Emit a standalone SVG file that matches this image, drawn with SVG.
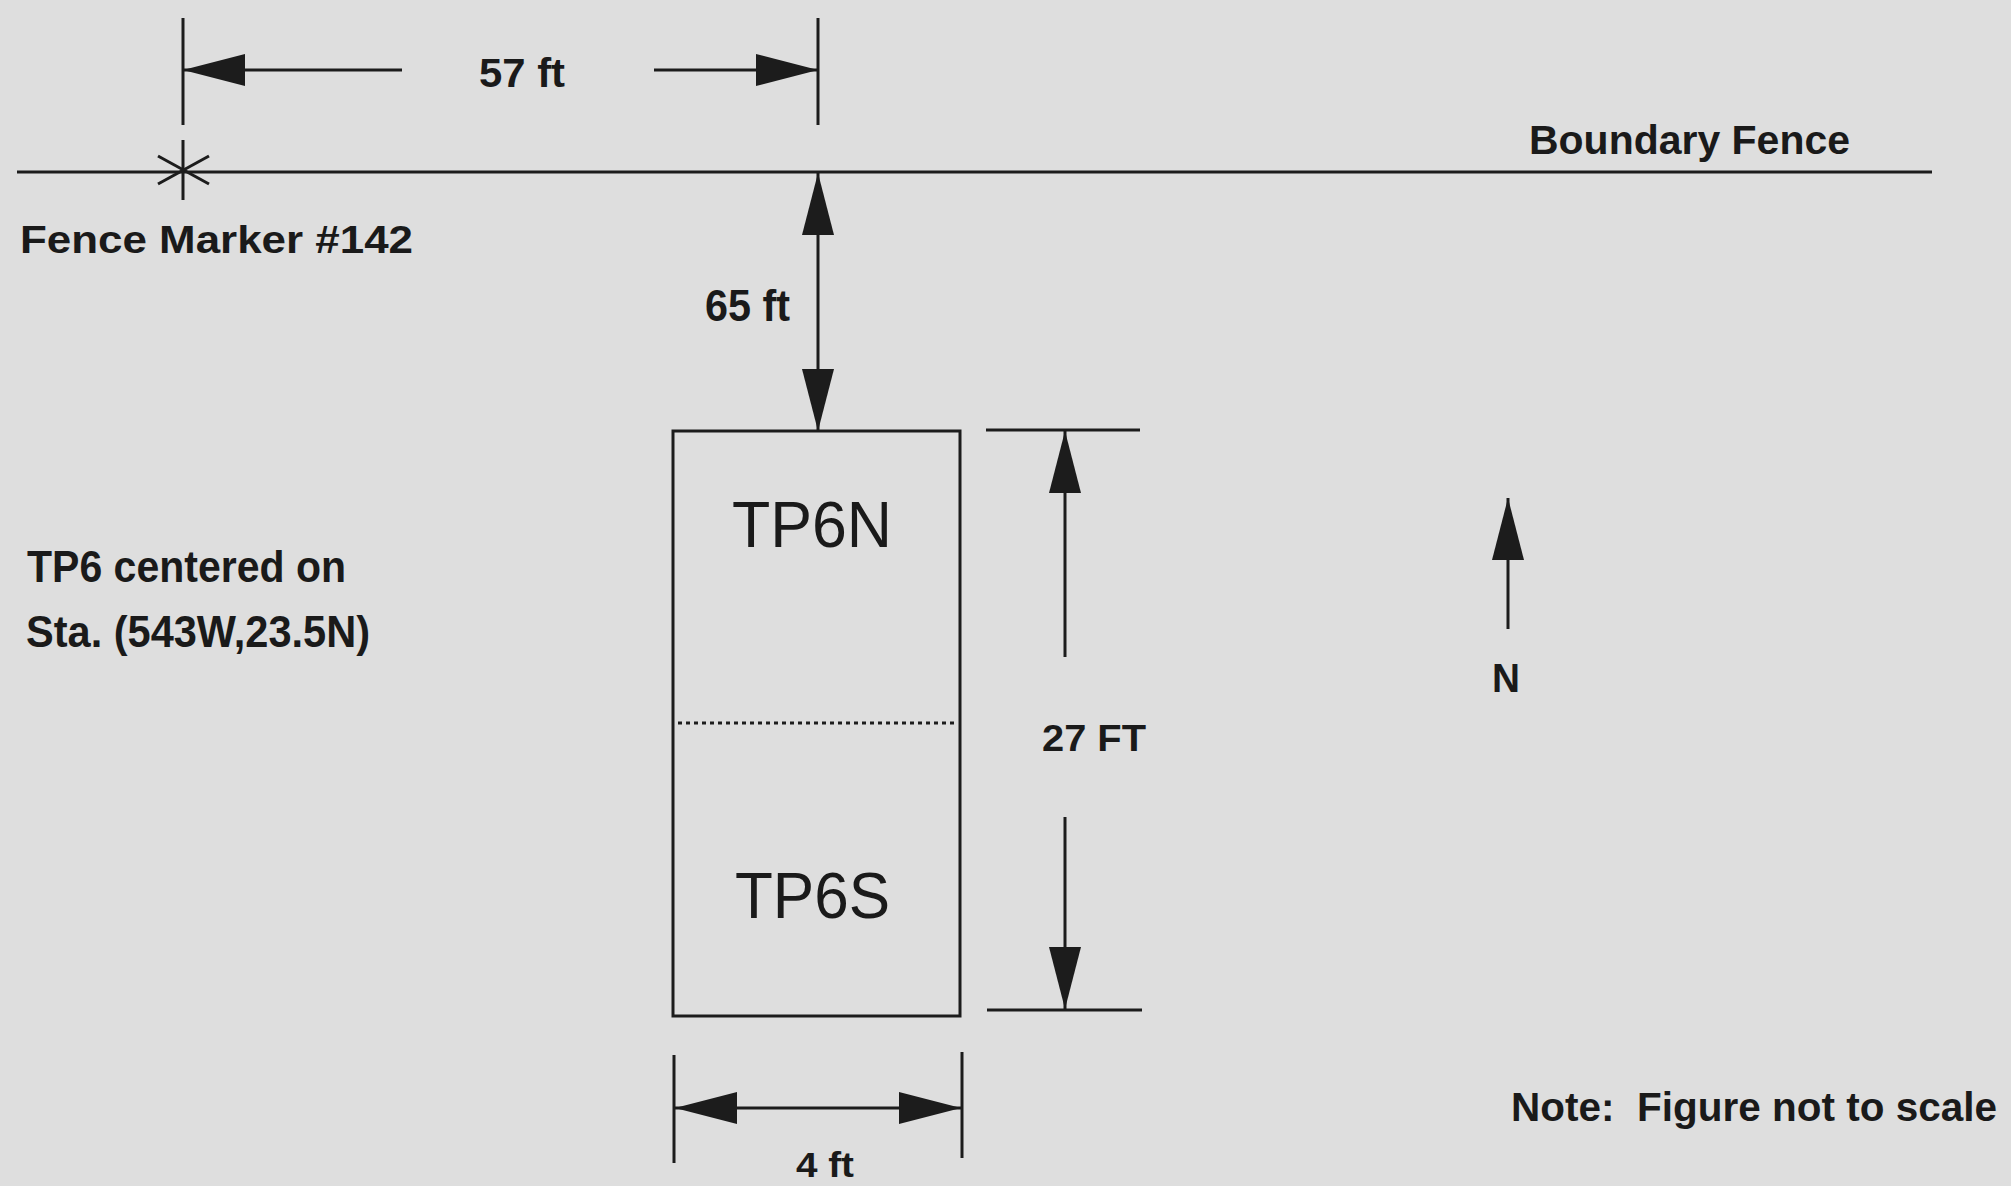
<svg xmlns="http://www.w3.org/2000/svg" width="2011" height="1186" viewBox="0 0 2011 1186">
<style>
.ln{stroke:#1c1c1c;stroke-width:3;fill:none}
.dim{stroke:#1c1c1c;stroke-width:3;fill:none}
.tb{font-family:"Liberation Sans",Arial,Helvetica,sans-serif;font-weight:bold;fill:#1a1a1a}
.tr{font-family:"Liberation Sans",Arial,Helvetica,sans-serif;fill:#1a1a1a}
</style>
<defs>
<marker id="ah" markerUnits="userSpaceOnUse" markerWidth="64" markerHeight="34" viewBox="0 0 64 34" refX="62" refY="17" orient="auto-start-reverse">
<path d="M0,1 L62,17 L0,33 Z" fill="#1c1c1c"/>
</marker>
</defs>
<rect x="0" y="0" width="2011" height="1186" fill="#dedede"/>

<g id="fence">
<line class="ln" x1="17" y1="172" x2="1932" y2="172"/>
<text class="tb" x="1529" y="154" font-size="41" textLength="321" lengthAdjust="spacingAndGlyphs">Boundary Fence</text>
</g>

<g id="fence-marker">
<line class="ln" stroke-width="2.5" x1="183" y1="140" x2="183" y2="200"/>
<line class="ln" stroke-width="2.5" x1="158" y1="156" x2="209" y2="184"/>
<line class="ln" stroke-width="2.5" x1="158" y1="184" x2="209" y2="156"/>
<text class="tb" x="20" y="253" font-size="39" textLength="393" lengthAdjust="spacingAndGlyphs">Fence Marker #142</text>
</g>

<g id="tp6-label">
<text class="tb" x="27" y="582" font-size="44" textLength="319" lengthAdjust="spacingAndGlyphs">TP6 centered on</text>
<text class="tb" x="26" y="647" font-size="44" textLength="344" lengthAdjust="spacingAndGlyphs">Sta. (543W,23.5N)</text>
</g>

<g id="tp6">
<rect class="ln" x="673" y="431" width="287" height="585"/>
<line class="ln" stroke-width="2" stroke-dasharray="4 4" x1="678" y1="723" x2="957" y2="723"/>
<text class="tr" x="732" y="547" font-size="64" textLength="160" lengthAdjust="spacingAndGlyphs">TP6N</text>
<text class="tr" x="735" y="918" font-size="64" textLength="155" lengthAdjust="spacingAndGlyphs">TP6S</text>
</g>

<g id="north">
<line class="dim" x1="1508" y1="629" x2="1508" y2="498" marker-end="url(#ah)"/>
<text class="tb" x="1492" y="692" font-size="40" textLength="28" lengthAdjust="spacingAndGlyphs">N</text>
</g>

<g id="note">
<text class="tb" x="1511" y="1121" font-size="41" textLength="486" lengthAdjust="spacingAndGlyphs" xml:space="preserve">Note:  Figure not to scale</text>
</g>

<g id="connectors">
<!-- 57 ft -->
<line class="dim" x1="183" y1="18" x2="183" y2="125"/>
<line class="dim" x1="818" y1="18" x2="818" y2="125"/>
<line class="dim" x1="183" y1="70" x2="402" y2="70" marker-start="url(#ah)"/>
<line class="dim" x1="654" y1="70" x2="818" y2="70" marker-end="url(#ah)"/>
<!-- 65 ft -->
<line class="dim" x1="818" y1="173" x2="818" y2="431" marker-start="url(#ah)" marker-end="url(#ah)"/>
<!-- 27 FT -->
<line class="dim" x1="986" y1="430" x2="1140" y2="430"/>
<line class="dim" x1="987" y1="1010" x2="1142" y2="1010"/>
<line class="dim" x1="1065" y1="431" x2="1065" y2="657" marker-start="url(#ah)"/>
<line class="dim" x1="1065" y1="817" x2="1065" y2="1009" marker-end="url(#ah)"/>
<!-- 4 ft -->
<line class="dim" x1="674" y1="1055" x2="674" y2="1163"/>
<line class="dim" x1="962" y1="1052" x2="962" y2="1158"/>
<line class="dim" x1="675" y1="1108" x2="961" y2="1108" marker-start="url(#ah)" marker-end="url(#ah)"/>
</g>

<g id="labels">
<text class="tb" x="479" y="87" font-size="40" textLength="86" lengthAdjust="spacingAndGlyphs">57 ft</text>
<text class="tb" x="705" y="321" font-size="44" textLength="85" lengthAdjust="spacingAndGlyphs">65 ft</text>
<text class="tb" x="1042" y="751" font-size="36" textLength="104" lengthAdjust="spacingAndGlyphs">27 FT</text>
<text class="tb" x="796" y="1177" font-size="35" textLength="58" lengthAdjust="spacingAndGlyphs">4 ft</text>
</g>
</svg>
